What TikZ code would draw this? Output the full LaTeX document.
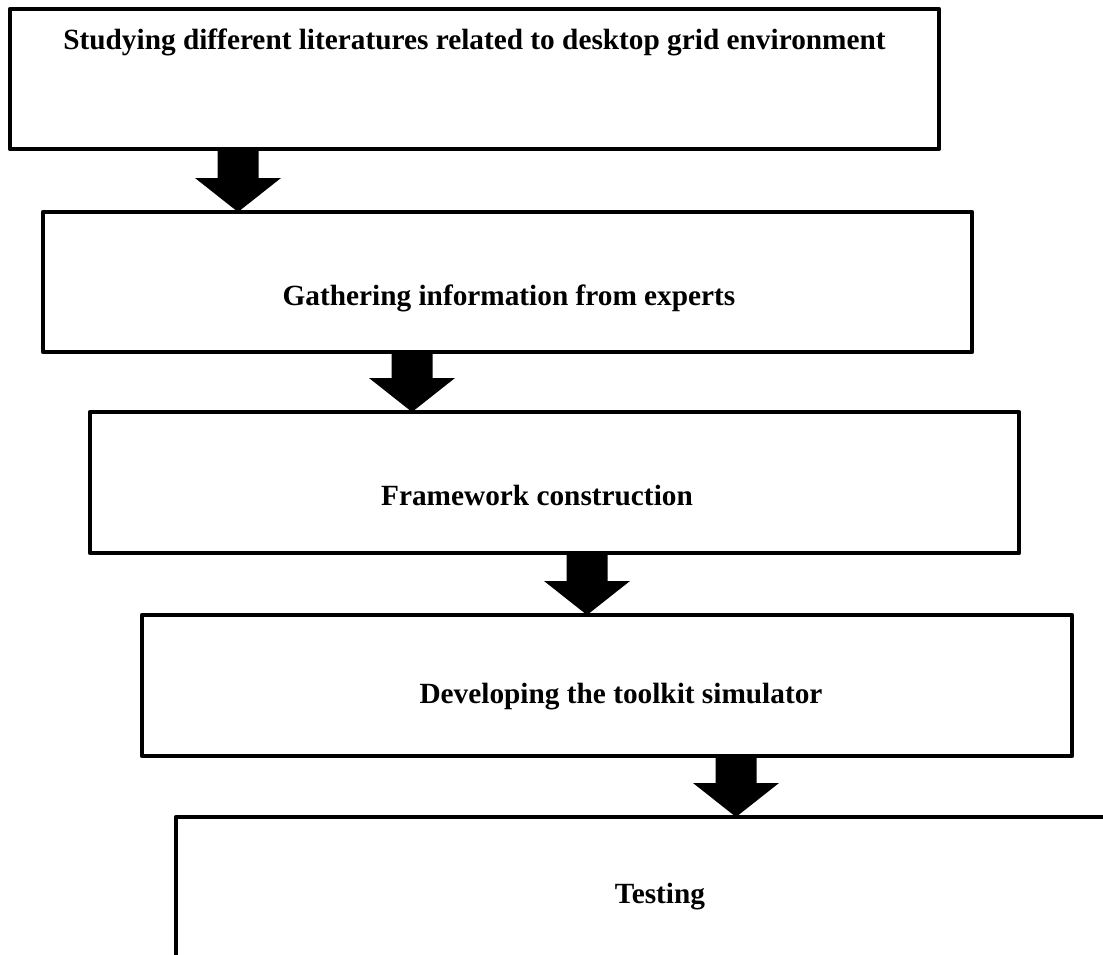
\documentclass[tikz,border=0pt]{standalone}
\usepackage{fontspec}
\setmainfont{Liberation Serif}
\usetikzlibrary{calc}

\tikzset{
  stage/.style={draw=black, line width=4.5pt, line join=round, fill=white,
    rectangle, inner sep=0pt, outer sep=0pt},
  stagetext/.style={anchor=base, inner sep=0pt,
    font=\bfseries\fontsize{29.3}{34}\selectfont},
  arrowfill/.style={fill=black},
}

% block arrow from a tail point on one box to a tip point on the next
\newcommand\flowarrow[2]{%
  \fill[arrowfill] ($(#1)+(-20.5,0)$) -- ($(#1)+(20.5,0)$)
    -- ($(#2)+(20.5,-34)$) -- ($(#2)+(43,-34)$) -- (#2)
    -- ($(#2)+(-43,-34)$) -- ($(#2)+(-20.5,-34)$) -- cycle;}

\begin{document}
\begin{tikzpicture}[x=1pt, y=-1pt]
  \useasboundingbox (0,0) rectangle (1103,955);
  \clip (0,0) rectangle (1103,955);

  % stages
  \node[stage, minimum width=929pt, minimum height=140pt] (b1) at (474.5,79) {};
  \node[stage, minimum width=929pt, minimum height=140pt] (b2) at (507.5,282) {};
  \node[stage, minimum width=929pt, minimum height=141pt] (b3) at (554.5,482.5) {};
  \node[stage, minimum width=930pt, minimum height=141pt] (b4) at (607,685.5) {};
  \node[stage, minimum width=964pt, minimum height=183pt] (b5) at (658,908.5) {};

  % stage captions
  \node[stagetext] (t1) at (474.5,50) {Studying different literatures related to desktop grid environment};
  \node[stagetext] (t2) at (509,305) {Gathering information from experts};
  \node[stagetext] (t3) at (537,505) {Framework construction};
  \node[stagetext] (t4) at (621,703) {Developing the toolkit simulator};
  \node[stagetext] (t5) at (660,903) {Testing};

  % connectors
  \coordinate (a1s) at (b1.south -| 238,0);
  \coordinate (a1e) at (b2.north -| 238,0);
  \coordinate (a2s) at (b2.south -| 412,0);
  \coordinate (a2e) at (b3.north -| 412,0);
  \coordinate (a3s) at (b3.south -| 587,0);
  \coordinate (a3e) at (b4.north -| 587,0);
  \coordinate (a4s) at (b4.south -| 736,0);
  \coordinate (a4e) at (b5.north -| 736,0);
  \flowarrow{a1s}{a1e}
  \flowarrow{a2s}{a2e}
  \flowarrow{a3s}{a3e}
  \flowarrow{a4s}{a4e}
\end{tikzpicture}
\end{document}
